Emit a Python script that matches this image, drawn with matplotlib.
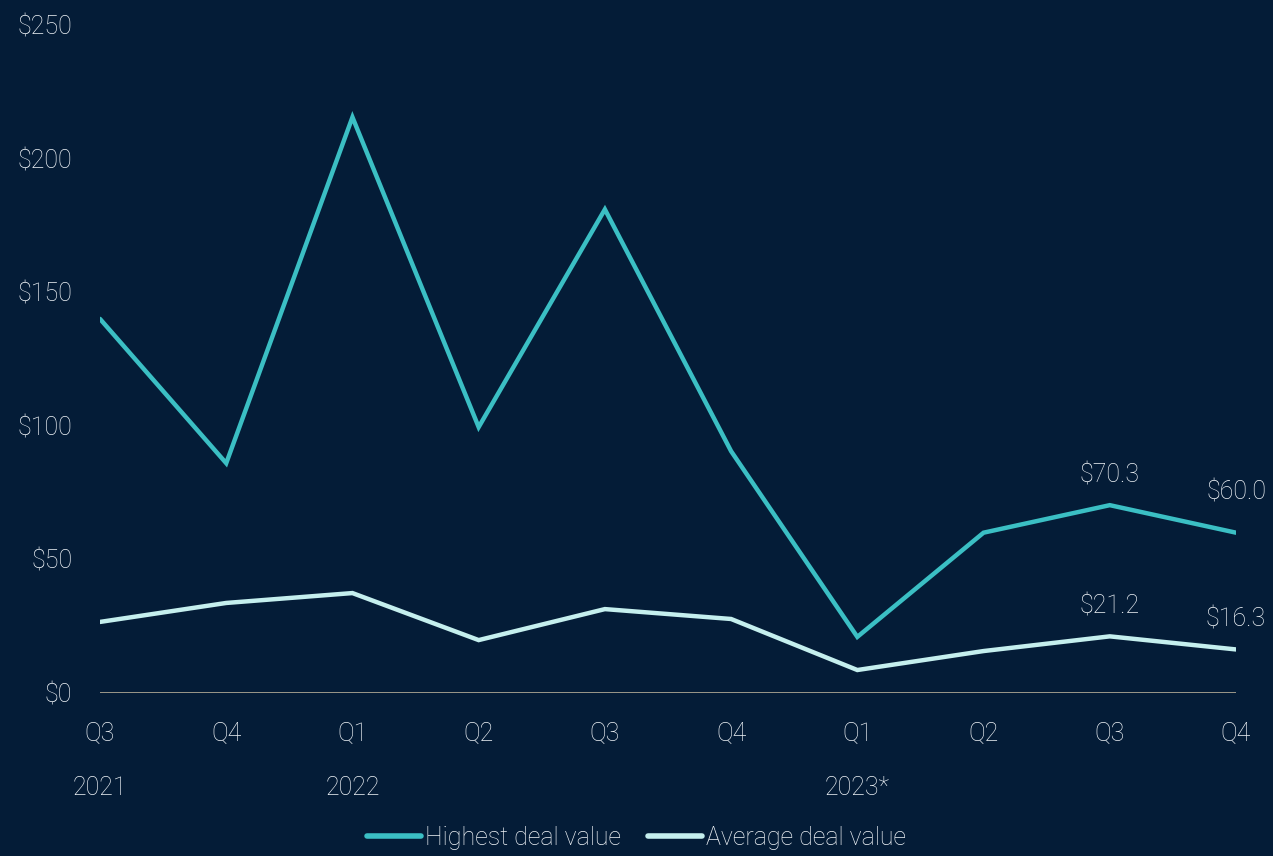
import matplotlib
matplotlib.use("Agg")
import matplotlib.pyplot as plt
from matplotlib.lines import Line2D

quarters = ["Q3", "Q4", "Q1", "Q2", "Q3", "Q4", "Q1", "Q2", "Q3", "Q4"]
years = {0: "2021", 2: "2022", 6: "2023*"}
highest = [140, 86, 215.5, 99.5, 181, 90.5, 21, 60, 70.3, 60.0]
average = [26.6, 33.7, 37.4, 19.8, 31.4, 27.7, 8.6, 15.7, 21.2, 16.3]
y_ticks = [0, 50, 100, 150, 200, 250]

BG = "#041c37"
TEAL = "#3bbfc4"
PALE = "#c5efee"
TXT = "#f0f4f8"
FS = 18

plt.rcParams["font.family"] = ["Roboto", "DejaVu Sans"]
plt.rcParams["font.weight"] = "light"

fig = plt.figure(figsize=(12.73, 8.56), dpi=100, facecolor=BG)
ax = fig.add_axes([100 / 1273, 163 / 856, 1136 / 1273, 668 / 856], facecolor=BG)

x = list(range(len(quarters)))
ax.plot(x, highest, color=TEAL, lw=3.2, solid_capstyle="round", solid_joinstyle="miter")
ax.plot(x, average, color=PALE, lw=3.2, solid_capstyle="round", solid_joinstyle="miter")
ax.axhline(0, color="#b5ad98", lw=1.2, zorder=0)

ax.set_xlim(0, 9)
ax.set_ylim(0, 250)
ax.set_yticks(y_ticks)
ax.set_yticklabels([f"${v}" for v in y_ticks], fontweight="light")
ax.set_xticks(x)
ax.set_xticklabels(quarters, fontweight="light")
ax.tick_params(length=0, colors=TXT, labelsize=FS)
ax.tick_params(axis="y", pad=20)
ax.tick_params(axis="x", pad=21)
for s in ax.spines.values():
    s.set_visible(False)

for i, label in years.items():
    ax.annotate(label, (i, 0), xytext=(0, -95), textcoords="offset pixels",
                ha="center", va="center", color=TXT, fontsize=FS,
                fontweight="light", annotation_clip=False)

# value labels for the last two quarters
for series in (highest, average):
    for i in (8, 9):
        dy = 40 if (series is highest and i == 9) else 30
        ax.annotate(f"${series[i]:.1f}", (i, series[i]), xytext=(0, dy),
                    textcoords="offset pixels", ha="center", va="center",
                    color=TXT, fontsize=FS, fontweight="light")

handles = [Line2D([], [], color=TEAL, lw=4, solid_capstyle="round"),
           Line2D([], [], color=PALE, lw=4, solid_capstyle="round")]
fig.legend(handles, ["Highest deal value", "Average deal value"], loc="center",
           bbox_to_anchor=(0.5, 1 - 838 / 856), ncol=2, frameon=False,
           prop={"size": FS, "weight": "light"}, labelcolor=TXT,
           handlelength=2.15, handletextpad=0.15, columnspacing=1.1)

fig.savefig("out.png", dpi=100, facecolor=BG)
